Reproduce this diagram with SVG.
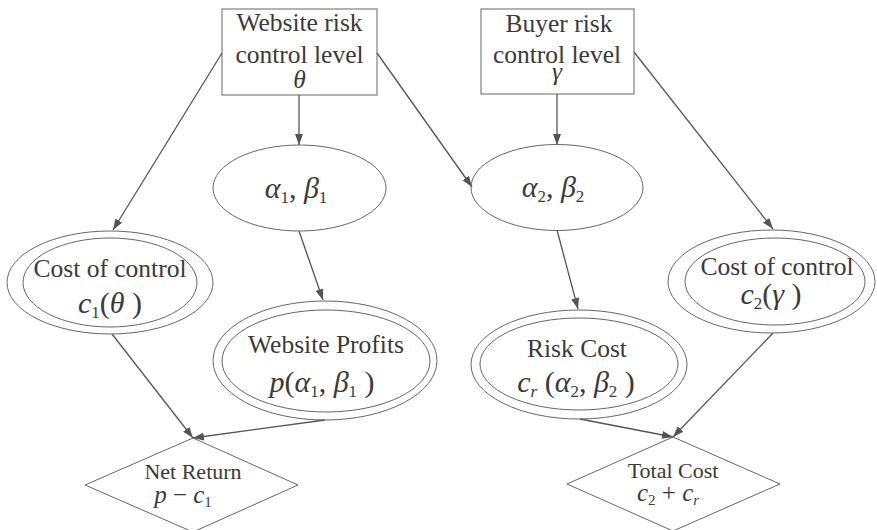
<svg xmlns="http://www.w3.org/2000/svg" width="877" height="530" viewBox="0 0 877 530">
<defs>
<marker id="ah" markerUnits="userSpaceOnUse" markerWidth="11" markerHeight="8" refX="11" refY="4" orient="auto">
<path d="M0,0 L11,4 L0,8 z" fill="#555"/>
</marker>
<style>
.shape{fill:none;stroke:#666;stroke-width:1}
.edge{stroke:#555;stroke-width:1.3;fill:none;marker-end:url(#ah)}
text{font-family:'Liberation Serif','DejaVu Serif','Times New Roman',Times,serif;fill:#3a3a3a;text-anchor:middle}
.t{font-size:25.5px}
.d{font-size:22px}
.m{font-size:30px}
.md{font-size:25px}
.i{font-style:italic}
.s{font-size:17px}
.sd{font-size:15px}
</style>
</defs>
<rect width="877" height="530" fill="#fff"/>
<g id="connectors">
<line class="edge" x1="222" y1="53" x2="113" y2="230"/>
<line class="edge" x1="299" y1="95" x2="299" y2="145"/>
<line class="edge" x1="377" y1="53" x2="472" y2="187"/>
<line class="edge" x1="557" y1="94" x2="557" y2="145"/>
<line class="edge" x1="634" y1="52" x2="773" y2="229"/>
<line class="edge" x1="299" y1="231" x2="323" y2="300"/>
<line class="edge" x1="557" y1="230" x2="578" y2="309"/>
<line class="edge" x1="112" y1="334" x2="193" y2="438"/>
<line class="edge" x1="325" y1="420" x2="193" y2="438"/>
<line class="edge" x1="580" y1="419" x2="673" y2="437"/>
<line class="edge" x1="773" y1="333" x2="673" y2="437"/>
</g>
<g id="website-risk">
<rect class="shape" x="222" y="9" width="155" height="86"/>
<text class="t" x="299.5" y="31">Website risk</text>
<text class="t" x="299.5" y="63">control level</text>
<text class="t i" x="299.5" y="88">θ</text>
</g>
<g id="buyer-risk">
<rect class="shape" x="481" y="9" width="153" height="85"/>
<text class="t" x="559" y="32">Buyer risk</text>
<text class="t" x="557" y="63">control level</text>
<text class="t i" x="557" y="80">γ</text>
</g>
<g id="alpha1-beta1">
<ellipse class="shape" cx="299.5" cy="188" rx="86.5" ry="43"/>
<text class="m" x="296" y="198"><tspan class="i">α</tspan><tspan class="s" dy="5">1</tspan><tspan dy="-5">, </tspan><tspan class="i">β</tspan><tspan class="s" dy="5">1</tspan></text>
</g>
<g id="alpha2-beta2">
<ellipse class="shape" cx="557" cy="187.5" rx="86" ry="43"/>
<text class="m" x="553" y="197"><tspan class="i">α</tspan><tspan class="s" dy="5">2</tspan><tspan dy="-5">, </tspan><tspan class="i">β</tspan><tspan class="s" dy="5">2</tspan></text>
</g>
<g id="cost-control-1">
<ellipse class="shape" cx="110" cy="282.5" rx="103" ry="51.5"/>
<ellipse class="shape" cx="110" cy="282.5" rx="87" ry="44.5"/>
<text class="t" x="110" y="277">Cost of control</text>
<text class="m" x="110" y="313"><tspan class="i">c</tspan><tspan class="s" dy="5">1</tspan><tspan dy="-5">(</tspan><tspan class="i">θ</tspan><tspan> )</tspan></text>
</g>
<g id="website-profits">
<ellipse class="shape" cx="325" cy="360.5" rx="112" ry="59.5"/>
<ellipse class="shape" cx="326" cy="361" rx="104" ry="51"/>
<text class="t" x="326" y="353">Website Profits</text>
<text class="m" x="322" y="392"><tspan class="i">p</tspan><tspan>(</tspan><tspan class="i">α</tspan><tspan class="s" dy="5">1</tspan><tspan dy="-5">, </tspan><tspan class="i">β</tspan><tspan class="s" dy="5">1</tspan><tspan dy="-5"> )</tspan></text>
</g>
<g id="risk-cost">
<ellipse class="shape" cx="579" cy="364.5" rx="108" ry="54.5"/>
<ellipse class="shape" cx="579" cy="364" rx="99" ry="46"/>
<text class="t" x="577" y="357">Risk Cost</text>
<text class="m" x="576" y="392"><tspan class="i">c</tspan><tspan class="s i" dy="5">r</tspan><tspan dy="-5"> (</tspan><tspan class="i">α</tspan><tspan class="s" dy="5">2</tspan><tspan dy="-5">, </tspan><tspan class="i">β</tspan><tspan class="s" dy="5">2</tspan><tspan dy="-5"> )</tspan></text>
</g>
<g id="cost-control-2">
<ellipse class="shape" cx="771.5" cy="281.5" rx="103.5" ry="51.5"/>
<ellipse class="shape" cx="775" cy="281.5" rx="90" ry="43.5"/>
<text class="t" x="777" y="275">Cost of control</text>
<text class="m" x="771" y="304"><tspan class="i">c</tspan><tspan class="s" dy="5">2</tspan><tspan dy="-5">(</tspan><tspan class="i">γ</tspan><tspan> )</tspan></text>
</g>
<g id="net-return">
<polygon class="shape" points="193,438 298,485 193,532 85,485"/>
<text class="d" x="193" y="479">Net Return</text>
<text class="md" x="183" y="503"><tspan class="i">p</tspan><tspan> − </tspan><tspan class="i">c</tspan><tspan class="sd" dy="4">1</tspan></text>
</g>
<g id="total-cost">
<polygon class="shape" points="673,437 780,484 673,531 567,484"/>
<text class="d" x="673" y="478">Total Cost</text>
<text class="md" x="668" y="501"><tspan class="i">c</tspan><tspan class="sd" dy="4">2</tspan><tspan dy="-4"> + </tspan><tspan class="i">c</tspan><tspan class="sd i" dy="4">r</tspan></text>
</g>
</svg>
